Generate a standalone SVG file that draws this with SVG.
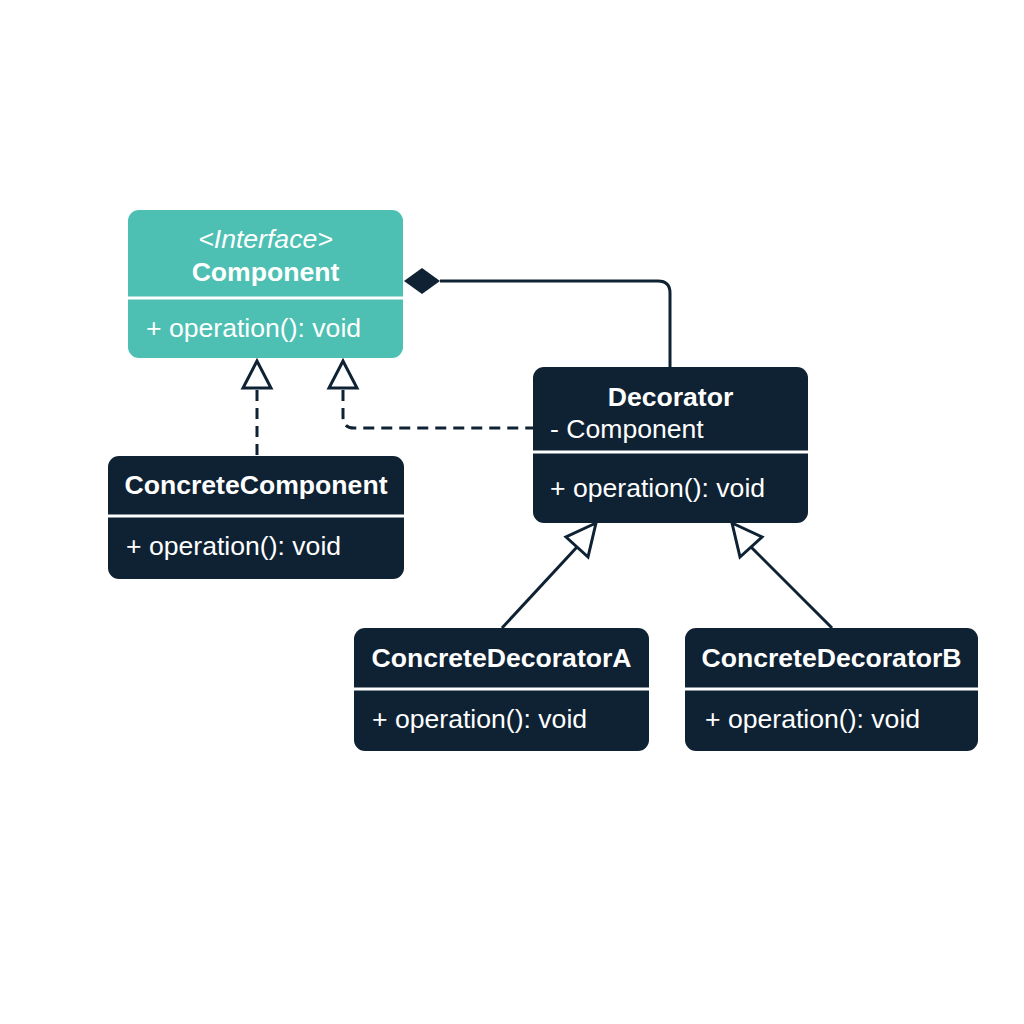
<svg xmlns="http://www.w3.org/2000/svg" width="1024" height="1024" viewBox="0 0 1024 1024">
<style>
text{font-family:"Liberation Sans",Arial,sans-serif;font-size:26.6px;fill:#ffffff}
.b{font-weight:bold}
.i{font-style:italic}
.dark{fill:#0f2233}
.teal{fill:#4dbfb3}
.div{stroke:#ffffff;stroke-width:3}
.ln{fill:none;stroke:#0f2233;stroke-width:3}
.dash{fill:none;stroke:#0f2233;stroke-width:3;stroke-dasharray:11 7}
.tri{fill:#ffffff;stroke:#0f2233;stroke-width:3;stroke-linejoin:miter}
</style>
<rect width="1024" height="1024" fill="#ffffff"/>
<g id="connectors">
  <path class="ln" d="M440 281 H658 Q670 281 670 293 V367"/>
  <polygon points="404,281 422,268 440,281 422,294" fill="#0f2233"/>
  <path class="dash" d="M257 390 V456"/>
  <polygon class="tri" points="257,361 243,388 271,388"/>
  <path class="dash" d="M343 390 V417 Q343 428 354 428 H533"/>
  <polygon class="tri" points="343,361 329,388 357,388"/>
  <path class="ln" d="M502 628 L577 547"/>
  <polygon class="tri" points="596,523 566,537 588,557"/>
  <path class="ln" d="M832 628 L751 547"/>
  <polygon class="tri" points="732,523 762,537 740,557"/>
</g>
<g id="component">
  <rect class="teal" x="128" y="210" width="275" height="148" rx="11"/>
  <line class="div" x1="128" y1="298" x2="403" y2="298"/>
  <text class="i" x="265.5" y="248" text-anchor="middle">&lt;Interface&gt;</text>
  <text class="b" x="265.5" y="281" text-anchor="middle">Component</text>
  <text x="146" y="337">+ operation(): void</text>
</g>
<g id="decorator">
  <rect class="dark" x="533" y="367" width="275" height="156" rx="11"/>
  <line class="div" x1="533" y1="452" x2="808" y2="452"/>
  <text class="b" x="670.5" y="406" text-anchor="middle">Decorator</text>
  <text x="550" y="438">- Component</text>
  <text x="550" y="497">+ operation(): void</text>
</g>
<g id="concreteComponent">
  <rect class="dark" x="108" y="456" width="296" height="123" rx="11"/>
  <line class="div" x1="108" y1="516" x2="404" y2="516"/>
  <text class="b" x="256" y="494" text-anchor="middle">ConcreteComponent</text>
  <text x="126" y="555">+ operation(): void</text>
</g>
<g id="concreteDecoratorA">
  <rect class="dark" x="354" y="628" width="295" height="123" rx="11"/>
  <line class="div" x1="354" y1="689" x2="649" y2="689"/>
  <text class="b" x="501.5" y="667" text-anchor="middle">ConcreteDecoratorA</text>
  <text x="372" y="728">+ operation(): void</text>
</g>
<g id="concreteDecoratorB">
  <rect class="dark" x="685" y="628" width="293" height="123" rx="11"/>
  <line class="div" x1="685" y1="689" x2="978" y2="689"/>
  <text class="b" x="831.5" y="667" text-anchor="middle">ConcreteDecoratorB</text>
  <text x="705" y="728">+ operation(): void</text>
</g>
</svg>
